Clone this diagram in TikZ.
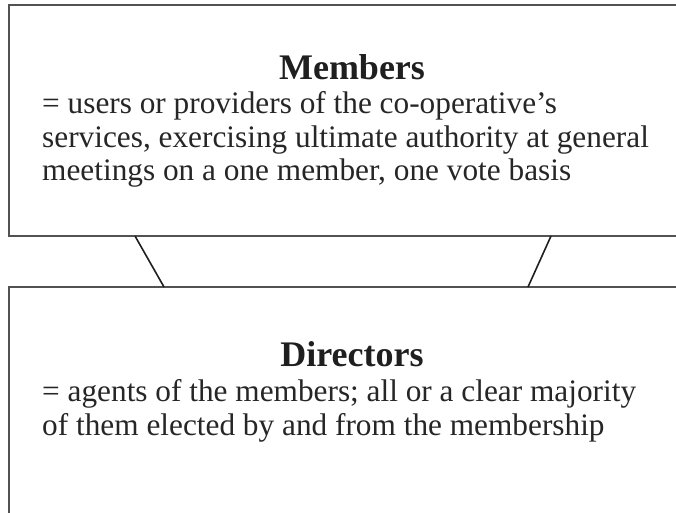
\documentclass[tikz,border=0pt]{standalone}
\usepackage{fontspec}
\setmainfont{Liberation Serif}
\begin{document}
\begin{tikzpicture}[x=1pt,y=1pt,
  boxline/.style={draw=black!68,line width=1.4pt},
  link/.style={draw=black!88,line width=1.6pt},
  heading/.style={font=\fontsize{36}{40}\selectfont\bfseries,inner sep=0pt,anchor=base,text=black!88},
  body/.style={font=\fontsize{31.3}{34}\selectfont,inner sep=0pt,anchor=base west,text=black!85}]
  \useasboundingbox (0,0) rectangle (676,-513);
  \clip (0,0) rectangle (676,-513);
  % the two boxes, running off the right and bottom edges
  \draw[boxline] (9,-5) rectangle (720,-236);
  \draw[boxline] (9,-287) rectangle (720,-560);
  % points where the links meet the boxes
  \coordinate (mL) at (135,-236);
  \coordinate (mR) at (551,-236);
  \coordinate (dL) at (164,-287);
  \coordinate (dR) at (528,-287);
  \draw[link] (mL) -- (dL);
  \draw[link] (mR) -- (dR);
  % members box
  \node[heading] (mhead) at (352,-80) {Members};
  \node[body] (m1) at (42,-113.5) {= users or providers of the co-operative’s};
  \node[body] (m2) at (42,-147) {services, exercising ultimate authority at general};
  \node[body] (m3) at (42,-180.5) {meetings on a one member, one vote basis};
  % directors box
  \node[heading] (dhead) at (352,-366) {Directors};
  \node[body] (d1) at (42,-401) {= agents of the members; all or a clear majority};
  \node[body] (d2) at (42,-435) {of them elected by and from the membership};
\end{tikzpicture}
\end{document}
